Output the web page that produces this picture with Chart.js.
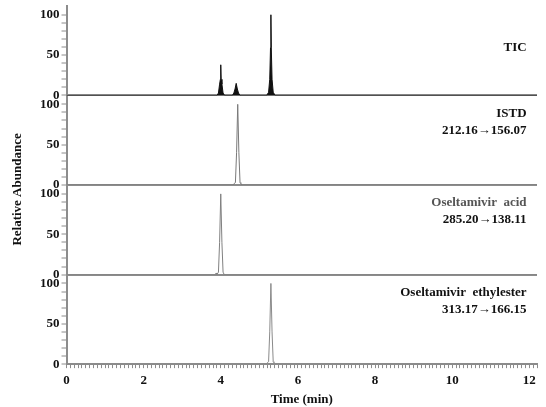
<!DOCTYPE html>
<html>
<head>
<meta charset="utf-8">
<script src="https://cdn.jsdelivr.net/npm/chart.js@4/dist/chart.umd.min.js"></script>
<style>
  html, body { margin: 0; padding: 0; background: #fff; }
  #wrap { width: 546px; height: 407px; position: relative; }
</style>
</head>
<body>
<div id="wrap"><canvas id="chrom"></canvas></div>
<script>
// Chromatogrammes LC-MS/MS : TIC + 3 transitions MRM
const ticTime  = [0, 3.90, 3.94, 3.97, 3.99, 4.00, 4.01, 4.03, 4.06, 4.10, 4.30, 4.34, 4.37, 4.40, 4.43, 4.46, 4.50, 5.19, 5.24, 5.27, 5.29, 5.30, 5.31, 5.33, 5.36, 5.41, 12.2];
const ticAbund = [0, 0, 3, 14, 20, 38, 20, 14, 3, 0, 0, 3, 8, 15, 8, 3, 0, 0, 4, 20, 59, 100, 59, 20, 4, 0, 0];

const istdTime  = [0, 4.33, 4.35, 4.38, 4.41, 4.44, 4.47, 4.50, 4.52, 4.54, 12.2];
const istdAbund = [0, 0, 2, 3, 40, 100, 40, 3, 2, 0, 0];

const acidTime  = [0, 3.86, 3.88, 3.90, 3.94, 3.97, 4.00, 4.03, 4.06, 4.09, 12.2];
const acidAbund = [0, 0, 2, 0, 3, 40, 100, 40, 3, 0, 0];

const esterTime  = [0, 5.19, 5.21, 5.24, 5.27, 5.30, 5.33, 5.36, 5.38, 5.41, 12.2];
const esterAbund = [0, 0, 2, 3, 40, 100, 40, 3, 2, 0, 0];

const panelLabels = [
  ['TIC'],
  ['ISTD', '212.16\u2192156.07'],
  ['Oseltamivir  acid', '285.20\u2192138.11'],
  ['Oseltamivir  ethylester', '313.17\u2192166.15']
];
const yTitle = 'Relative Abundance';
const xTitle = 'Time (min)';

const SERIF = '"Liberation Serif", "Times New Roman", serif';
const AXIS_GREY = '#8c8c8c';

const toXY = (t, a) => t.map((x, i) => ({ x, y: a[i] }));

function yAxis() {
  return {
    type: 'linear',
    position: 'left',
    stack: 'chrom',
    stackWeight: 1,
    min: 0,
    max: 111,
    afterBuildTicks: s => { s.ticks = s.ticks.filter(t => t.value <= 100); },
    ticks: {
      stepSize: 10,
      autoSkip: false,
      padding: 2,
      color: '#111',
      font: { family: SERIF, weight: 'bold', size: 13, lineHeight: 0.6 },
      callback: v => (v === 0 || v === 50 || v === 100) ? v : ''
    },
    grid: {
      drawOnChartArea: true,
      color: ctx => (ctx.tick && ctx.tick.value === 0) ? AXIS_GREY : 'rgba(0,0,0,0)',
      lineWidth: 2,
      tickColor: AXIS_GREY,
      tickWidth: 1,
      tickLength: 5
    },
    border: { display: true, color: AXIS_GREY, width: 2 }
  };
}

const labelsPlugin = {
  id: 'chromLabels',
  afterDraw(chart) {
    const { ctx, scales } = chart;
    const xs = scales.x;
    ctx.save();
    ctx.fillStyle = '#111';
    ctx.font = 'bold 13px ' + SERIF;
    // titre vertical commun
    const yc = (scales.y2.getPixelForValue(0) + scales.y3.getPixelForValue(100)) / 2;
    ctx.translate(18, yc);
    ctx.rotate(-Math.PI / 2);
    ctx.textAlign = 'center';
    ctx.textBaseline = 'middle';
    ctx.fillText(yTitle, 0, 0);
    ctx.restore();

    // étiquettes à droite de chaque panneau
    ctx.save();
    ctx.font = 'bold 13px ' + SERIF;
    ctx.textAlign = 'right';
    ctx.textBaseline = 'middle';
    const xr = xs.getPixelForValue(11.93);
    ['y1', 'y2', 'y3', 'y4'].forEach((id, i) => {
      const ys = scales[id];
      const lines = panelLabels[i];
      if (lines.length === 1) {
        ctx.fillStyle = '#111';
        ctx.fillText(lines[0], xr, ys.getPixelForValue(59));
      } else {
        ctx.fillStyle = i === 2 ? '#555' : '#111';
        ctx.fillText(lines[0], xr, ys.getPixelForValue(89));
        ctx.fillStyle = '#111';
        ctx.fillText(lines[1], xr, ys.getPixelForValue(68));
      }
    });
    ctx.restore();
  }
};

new Chart(document.getElementById('chrom'), {
  type: 'scatter',
  data: {
    datasets: [
      {
        label: 'TIC',
        data: toXY(ticTime, ticAbund),
        showLine: true,
        borderColor: '#111',
        backgroundColor: '#111',
        borderWidth: 1,
        fill: 'origin',
        pointRadius: 0,
        tension: 0,
        yAxisID: 'y1'
      },
      {
        label: 'ISTD',
        data: toXY(istdTime, istdAbund),
        showLine: true,
        borderColor: '#7a7a7a',
        borderWidth: 1,
        fill: false,
        pointRadius: 0,
        tension: 0,
        yAxisID: 'y2'
      },
      {
        label: 'Oseltamivir acid',
        data: toXY(acidTime, acidAbund),
        showLine: true,
        borderColor: '#808080',
        borderWidth: 1,
        fill: false,
        pointRadius: 0,
        tension: 0,
        yAxisID: 'y3'
      },
      {
        label: 'Oseltamivir ethylester',
        data: toXY(esterTime, esterAbund),
        showLine: true,
        borderColor: '#8a8a8a',
        borderWidth: 1,
        fill: false,
        pointRadius: 0,
        tension: 0,
        yAxisID: 'y4'
      }
    ]
  },
  options: {
    responsive: true,
    maintainAspectRatio: false,
    animation: false,
    layout: { padding: { top: 0, left: 38, right: 4, bottom: 1 } },
    plugins: {
      legend: { display: false },
      tooltip: { enabled: false }
    },
    scales: {
      x: {
        type: 'linear',
        position: 'bottom',
        min: 0,
        max: 12.2,
        ticks: {
          stepSize: 0.1,
          maxTicksLimit: 200,
          autoSkip: false,
          maxRotation: 0,
          padding: 9,
          color: '#111',
          font: { family: SERIF, weight: 'bold', size: 13, lineHeight: 0.55 },
          callback: v => {
            const r = Math.round(v);
            return (Math.abs(v - r) < 1e-6 && r % 2 === 0) ? r : '';
          }
        },
        grid: {
          drawOnChartArea: false,
          tickColor: AXIS_GREY,
          tickWidth: 1,
          tickLength: 4
        },
        border: { display: true, color: AXIS_GREY, width: 2 },
        title: {
          display: true,
          text: xTitle,
          color: '#111',
          font: { family: SERIF, weight: 'bold', size: 13, lineHeight: 0.9 },
          padding: { top: 0, bottom: 1 }
        }
      },
      // l'ordre des clés fixe l'empilement (le dernier en haut)
      y4: yAxis(),
      y3: yAxis(),
      y2: yAxis(),
      y1: yAxis()
    }
  },
  plugins: [labelsPlugin]
});
</script>
</body>
</html>
